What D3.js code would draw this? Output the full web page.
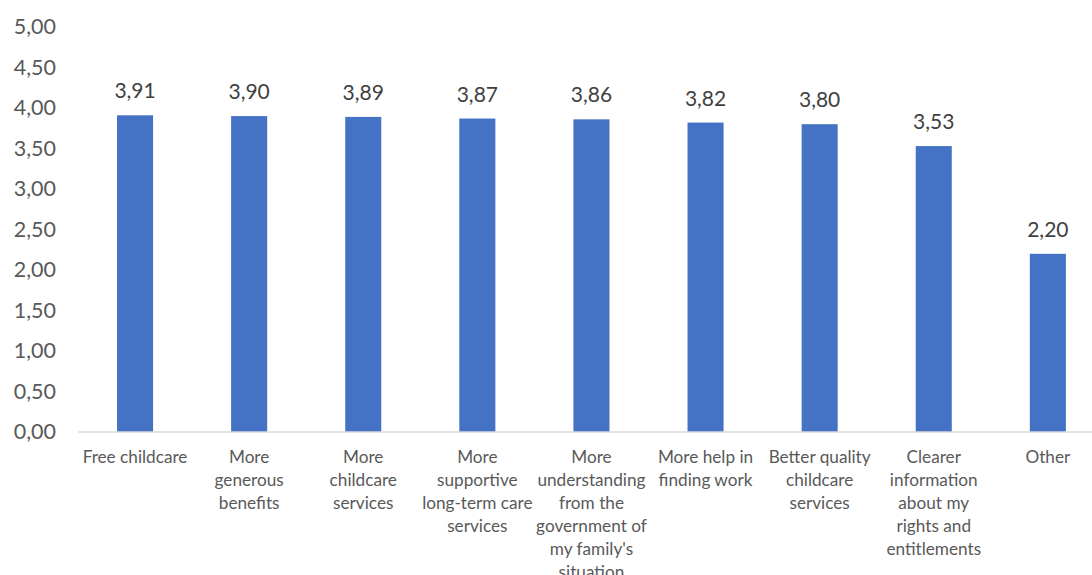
<!DOCTYPE html>
<html>
<head>
<meta charset="utf-8">
<script src="https://cdn.jsdelivr.net/npm/d3@7"></script>
<style>
  html, body { margin: 0; padding: 0; background: #fff; }
  svg { display: block; font-family: Lato, "Open Sans", sans-serif; }
</style>
</head>
<body>
<svg id="chart" width="1092" height="575"></svg>
<script>
// Mean support scores per measure
const categories = [
  "Free childcare",
  "More generous benefits",
  "More childcare services",
  "More supportive long-term care services",
  "More understanding from the government of my family's situation",
  "More help in finding work",
  "Better quality childcare services",
  "Clearer information about my rights and entitlements",
  "Other"
];
const categoryLines = [
  ["Free childcare"],
  ["More", "generous", "benefits"],
  ["More", "childcare", "services"],
  ["More", "supportive", "long-term care", "services"],
  ["More", "understanding", "from the", "government of", "my family's", "situation"],
  ["More help in", "finding work"],
  ["Better quality", "childcare", "services"],
  ["Clearer", "information", "about my", "rights and", "entitlements"],
  ["Other"]
];
const values = [3.91, 3.90, 3.89, 3.87, 3.86, 3.82, 3.80, 3.53, 2.20];
const yTicks = [0, 0.5, 1, 1.5, 2, 2.5, 3, 3.5, 4, 4.5, 5];

const svg = d3.select("#chart");
const left = 78, step = 114.1;
const x = d3.scaleBand()
  .domain(categories)
  .range([left, left + step * categories.length])
  .paddingInner(0.684)
  .paddingOuter(0.342);
const y = d3.scaleLinear().domain([0, 5]).range([432, 27]);
const fmt = v => d3.format(".2f")(v).replace(".", ",");

// y-axis labels (no axis line, no ticks)
const yAxis = svg.append("g")
  .attr("transform", `translate(56,0)`)
  .call(d3.axisLeft(y).tickValues(yTicks).tickFormat(fmt).tickSize(0).tickPadding(0));
yAxis.select(".domain").remove();
yAxis.selectAll("text")
  .attr("fill", "#595959")
  .style("font-size", "21.5px")
  .style("font-family", "Lato, 'Open Sans', sans-serif");

// bars
svg.append("g").selectAll("rect")
  .data(values)
  .join("rect")
  .attr("x", (d, i) => x(categories[i]))
  .attr("width", x.bandwidth())
  .attr("y", d => y(d))
  .attr("height", d => y(0) - y(d))
  .attr("fill", "#4472C4");

// baseline
svg.append("line")
  .attr("x1", left).attr("x2", 1092)
  .attr("y1", y(0)).attr("y2", y(0))
  .attr("stroke", "#D9D9D9").attr("stroke-width", 1.5);

// value labels
svg.append("g").selectAll("text")
  .data(values)
  .join("text")
  .attr("x", (d, i) => x(categories[i]) + x.bandwidth() / 2)
  .attr("y", d => y(d) - 17)
  .attr("text-anchor", "middle")
  .attr("fill", "#404040")
  .style("font-size", "21px")
  .text(fmt);

// category labels
const cat = svg.append("g").selectAll("text")
  .data(categories)
  .join("text")
  .attr("x", d => x(d) + x.bandwidth() / 2)
  .attr("y", 463)
  .attr("text-anchor", "middle")
  .attr("fill", "#595959")
  .style("font-size", "17.2px");
cat.each(function(d, i) {
  d3.select(this).selectAll("tspan")
    .data(categoryLines[i])
    .join("tspan")
    .attr("x", x(d) + x.bandwidth() / 2)
    .attr("dy", (l, j) => j === 0 ? 0 : 23)
    .text(l => l);
});
</script>
</body>
</html>
